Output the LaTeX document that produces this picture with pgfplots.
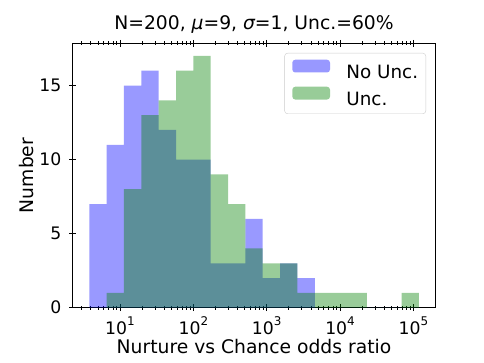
\documentclass[border=0pt]{standalone}
\usepackage{fontspec}
\setmainfont{DejaVu Sans}
\usepackage{pgfplots}
\usepackage{pgfplotstable}
\pgfplotsset{compat=1.18}

\definecolor{mplblue}{RGB}{0,0,255}
\definecolor{mplgreen}{RGB}{0,128,0}

\newcommand\sups[1]{\raisebox{9bp}{\fontsize{12}{12}\selectfont #1}}

% bin left edges (log bins), counts per bin; last row = right end
\pgfplotstableread{
edge   nounc unc
3.811  7  0
6.571  11 1
11.32  15 8
19.52  16 13
33.65  12 14
58.01  10 16
100.0  10 17
172.4  3  9
297.2  3  7
512.2  6  4
883.1  2  3
1522   3  3
2624   2  1
4524   0  1
7798   0  1
13444  0  1
23174  0  0
39954  0  0
68865  0  1
118740 0  0
}\hist

\begin{document}
\begin{tikzpicture}
\useasboundingbox (-72.7bp,-55.3bp) rectangle (411.3bp,307.7bp);
\begin{axis}[
    at={(0,0)}, anchor=south west,
    scale only axis,
    width=362.6bp, height=264.4bp,
    xmode=log,
    xmin=2.265, xmax=199000,
    ymin=0, ymax=17.85,
    xtick={10,100,1000,10000,100000},
    xticklabels={10\sups{1},10\sups{2},10\sups{3},10\sups{4},10\sups{5}},
    minor xtick={3,4,5,6,7,8,9,20,30,40,50,60,70,80,90,200,300,400,500,600,700,800,900,
                 2000,3000,4000,5000,6000,7000,8000,9000,20000,30000,40000,50000,60000,70000,80000,90000},
    ytick={0,5,10,15},
    /pgf/number format/assume math mode=true,
    xtick pos=both, ytick pos=left,
    tick align=center,
    major tick length=7bp, minor tick length=4bp,
    every tick/.style={black, line width=0.7bp},
    axis line style={line width=0.8bp},
    tick label style={font=\fontsize{17.3}{20}\selectfont},
    xticklabel style={anchor=base, inner sep=0pt, yshift=-23bp},
    yticklabel style={anchor=east, inner sep=0pt, xshift=-7.7bp},
    label style={font=\fontsize{18.8}{22}\selectfont},
    xlabel={Nurture vs Chance odds ratio},
    xlabel style={at={(axis description cs:0.5,0)}, anchor=base, yshift=-45.6bp},
    ylabel={Number},
    ylabel style={at={(axis description cs:-0.1087,0.5)}, anchor=base},
    title={N=200, {\itshape μ}=9, {\itshape σ}=1, Unc.=60\%},
    title style={font=\fontsize{18.8}{22}\selectfont, at={(axis description cs:0.5,1)}, anchor=base, yshift=8.3bp},
    legend image code/.code={\fill[#1] (0bp,0.3bp) rectangle (37.7bp,13.1bp);},
    legend style={at={(axis description cs:1,1)}, anchor=north east,
                  xshift=-9.3bp, yshift=-9.7bp,
                  draw=black!20, rounded corners=3bp,
                  fill=white, fill opacity=0.8, text opacity=1,
                  inner xsep=7.7bp, inner ysep=6.5bp,
                  font=\fontsize{18.4}{22}\selectfont,
                  nodes={inner sep=0pt},
                  row sep=6.5bp,
                  /tikz/every odd column/.append style={column sep=16.4bp}},
    legend cell align=left,
]
\addplot[ybar interval, fill=mplblue, fill opacity=0.4, draw=none]
    table[x=edge, y=nounc] {\hist};
\addlegendentry{No Unc.}
\addplot[ybar interval, fill=mplgreen, fill opacity=0.4, draw=none]
    table[x=edge, y=unc] {\hist};
\addlegendentry{Unc.}
\end{axis}
\end{tikzpicture}
\end{document}
